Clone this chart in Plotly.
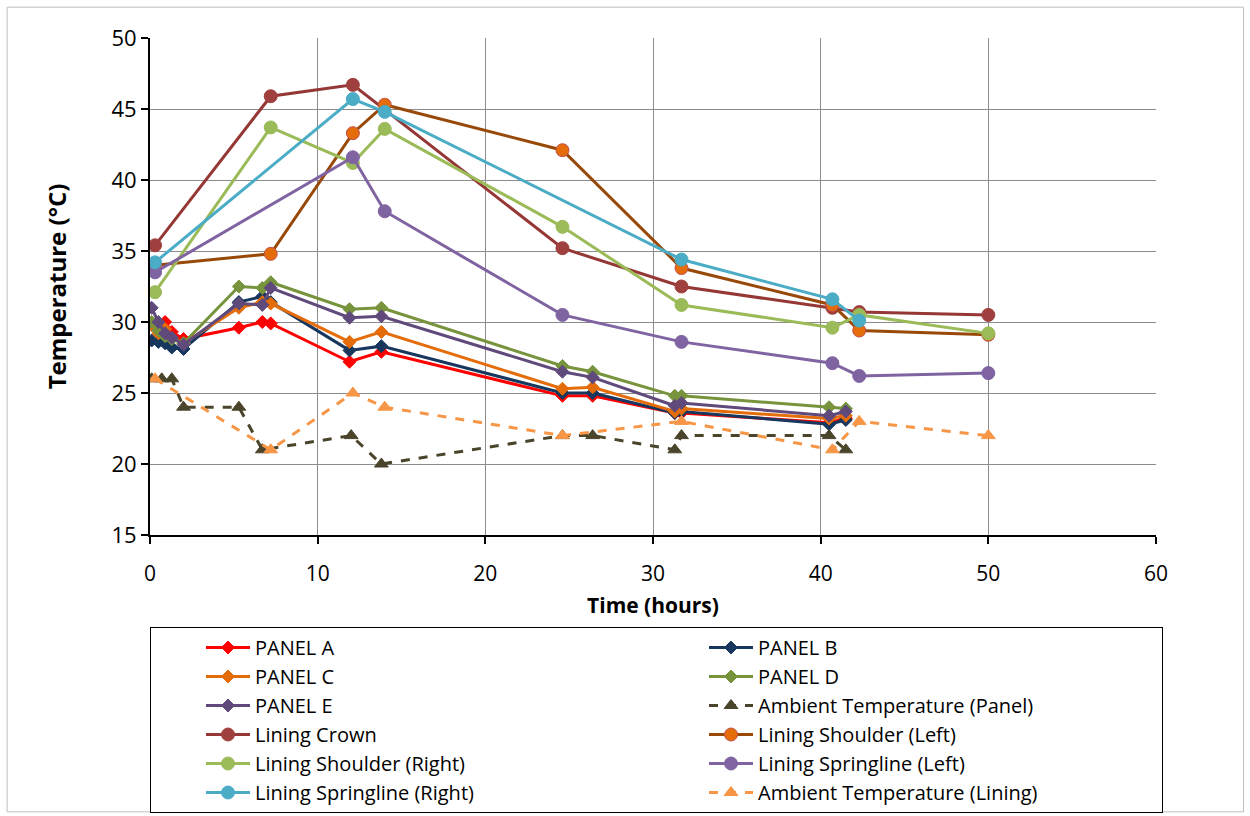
import plotly.graph_objects as go

# ---- data ----
panel_t = [0.1, 0.5, 0.9, 1.3, 2.0, 5.3, 6.7, 7.2, 11.9, 13.8, 24.6, 26.4, 31.3, 31.7, 40.5, 41.5]
panel_a = [29.8, 29.5, 30.0, 29.3, 28.8, 29.6, 30.0, 29.9, 27.2, 27.9, 24.8, 24.8, 23.6, 23.6, 22.9, 23.2]
panel_b = [28.7, 28.6, 28.5, 28.2, 28.1, 31.4, 31.8, 31.4, 28.0, 28.3, 25.0, 25.0, 23.6, 23.7, 22.8, 23.1]
panel_c = [29.8, 29.2, 29.5, 28.9, 28.5, 31.0, 31.4, 31.3, 28.6, 29.3, 25.3, 25.4, 23.7, 23.9, 23.2, 23.4]
panel_d = [30.0, 29.4, 29.0, 28.8, 28.5, 32.5, 32.4, 32.8, 30.9, 31.0, 26.9, 26.5, 24.8, 24.8, 24.0, 23.9]
panel_e = [31.0, 30.0, 29.2, 28.9, 28.4, 31.3, 31.2, 32.4, 30.3, 30.4, 26.5, 26.1, 24.1, 24.3, 23.4, 23.7]

amb_panel_t = [0.1, 0.7, 1.3, 2.0, 5.3, 6.7, 12.0, 13.8, 24.6, 26.4, 31.3, 31.7, 40.5, 41.5]
amb_panel = [26, 26, 26, 24, 24, 21, 22, 20, 22, 22, 21, 22, 22, 21]

lining_t = [0.3, 7.2, 12.1, 14.0, 24.6, 31.7, 40.7, 42.3, 50.0]
crown_t = [0.3, 7.2, 12.1, 24.6, 31.7, 40.7, 42.3, 50.0]
crown = [35.4, 45.9, 46.7, 35.2, 32.5, 31.0, 30.7, 30.5]
shoulder_left = [34.0, 34.8, 43.3, 45.3, 42.1, 33.8, 31.2, 29.4, 29.1]
shoulder_right = [32.1, 43.7, 41.2, 43.6, 36.7, 31.2, 29.6, 30.5, 29.2]
spring_left_t = [0.3, 12.1, 14.0, 24.6, 31.7, 40.7, 42.3, 50.0]
spring_left = [33.5, 41.6, 37.8, 30.5, 28.6, 27.1, 26.2, 26.4]
spring_right_t = [0.3, 12.1, 14.0, 31.7, 40.7, 42.3]
spring_right = [34.2, 45.7, 44.8, 34.4, 31.6, 30.1]
amb_lining = [26, 21, 25, 24, 22, 23, 21, 23, 22]

x_ticks = [0, 10, 20, 30, 40, 50, 60]
y_ticks = [15, 20, 25, 30, 35, 40, 45, 50]

FONT = "Open Sans, Liberation Sans, sans-serif"

fig = go.Figure()

def add(name, x, y, color, symbol, msize, dash="solid", mcolor=None, mline=None):
    fig.add_trace(go.Scatter(
        x=x, y=y, name=name, mode="lines+markers",
        line=dict(color=color, width=3, dash=dash),
        marker=dict(symbol=symbol, size=msize, color=mcolor or color,
                    line=dict(color=mline or (mcolor or color), width=1)),
    ))

add("PANEL A", panel_t, panel_a, "#FF0000", "diamond", 10)
add("PANEL B", panel_t, panel_b, "#17375E", "diamond", 10)
add("PANEL C", panel_t, panel_c, "#E46C0A", "diamond", 10)
add("PANEL D", panel_t, panel_d, "#77933C", "diamond", 10)
add("PANEL E", panel_t, panel_e, "#604A7B", "diamond", 10)
add("Ambient Temperature (Panel)", amb_panel_t, amb_panel, "#4A452A", "triangle-up", 12, dash="dash")
add("Lining Crown", crown_t, crown, "#953735", "circle", 13, mcolor="#A0403E")
add("Lining Shoulder (Left)", lining_t, shoulder_left, "#984807", "circle", 13, mcolor="#E46C0A", mline="#C0504D")
add("Lining Shoulder (Right)", lining_t, shoulder_right, "#9BBB59", "circle", 13)
add("Lining Springline (Left)", spring_left_t, spring_left, "#8064A2", "circle", 13)
add("Lining Springline (Right)", spring_right_t, spring_right, "#4BACC6", "circle", 13)
add("Ambient Temperature (Lining)", lining_t, amb_lining, "#F79646", "triangle-up", 12, dash="dash")

fig.update_layout(
    width=1250, height=816,
    margin=dict(l=150, r=94, t=38, b=281),
    paper_bgcolor="white", plot_bgcolor="white",
    font=dict(family=FONT, size=20, color="black"),
    showlegend=True,
    legend=dict(
        orientation="h",
        xref="paper", yref="container",
        x=0, xanchor="left", y=1 - 627 / 816, yanchor="top",
        entrywidth=0.5, entrywidthmode="fraction",
        bordercolor="black", borderwidth=1,
        font=dict(family=FONT, size=20),
        itemwidth=44, indentation=50,
        traceorder="normal",
    ),
    xaxis=dict(
        range=[0, 60], tickvals=x_ticks, ticktext=[str(v) for v in x_ticks],
        showgrid=True, gridcolor="#8C8C8C", gridwidth=1,
        showline=True, linecolor="black", linewidth=2,
        ticks="outside", ticklen=7, tickcolor="black", tickwidth=2,
        ticklabelstandoff=12,
        zeroline=False,
        title=dict(text="<b>Time (hours)</b>", font=dict(family=FONT, size=21), standoff=12),
        tickfont=dict(family=FONT, size=21),
    ),
    yaxis=dict(
        range=[15, 50], tickvals=y_ticks, ticktext=[str(v) for v in y_ticks],
        showgrid=True, gridcolor="#8C8C8C", gridwidth=1,
        showline=True, linecolor="black", linewidth=2,
        ticks="outside", ticklen=7, tickcolor="black", tickwidth=2,
        zeroline=False,
        title=dict(text="<b>Temperature (°C)</b>", font=dict(family=FONT, size=24), standoff=38),
        tickfont=dict(family=FONT, size=22),
    ),
)

# outer chart border
fig.add_shape(type="rect", xref="paper", yref="paper",
              x0=-0.142, x1=1.087, y0=-0.557, y1=1.062,
              line=dict(color="#BFBFBF", width=1), layer="below")

fig.write_html("out.html")
